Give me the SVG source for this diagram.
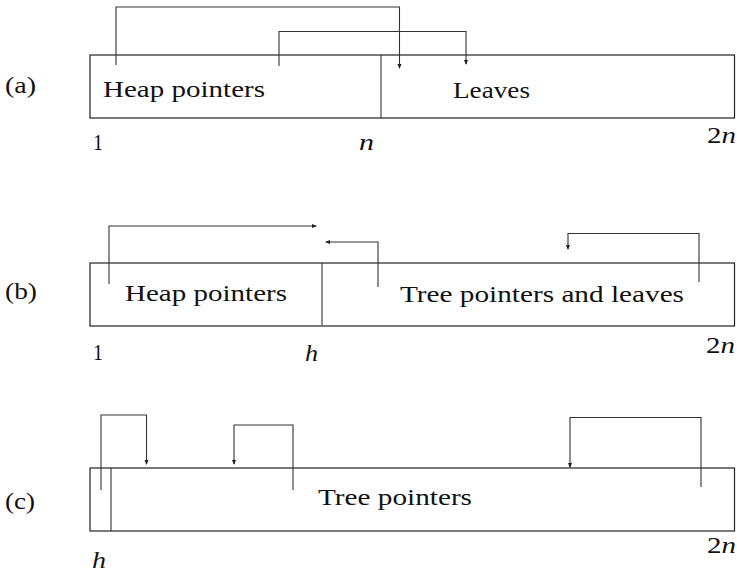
<svg xmlns="http://www.w3.org/2000/svg" width="737" height="573" viewBox="0 0 737 573">
<style>
text{font-family:'Liberation Serif','Times New Roman',Times,serif;font-size:23px;fill:#111}
.it{font-style:italic}
.box{fill:none;stroke:#222;stroke-width:1.2}
.div{stroke:#333;stroke-width:1.1}
.con{fill:none;stroke:#333;stroke-width:1.1}
</style>
<defs>
<marker id="ah" markerUnits="userSpaceOnUse" markerWidth="5" markerHeight="5" refX="4" refY="2.5" orient="auto">
<path d="M0,0.5 L5,2.5 L0,4.5 z" fill="#222"/>
</marker>
</defs>
<rect width="737" height="573" fill="#fff"/>

<g id="panel-a">
<rect class="box" x="90" y="55" width="644.5" height="63"/>
<line class="div" x1="381" y1="55" x2="381" y2="118"/>
<text x="5" y="93" textLength="31" lengthAdjust="spacingAndGlyphs">(a)</text>
<text x="103" y="97" textLength="162" lengthAdjust="spacingAndGlyphs">Heap pointers</text>
<text x="453" y="98" textLength="77" lengthAdjust="spacingAndGlyphs">Leaves</text>
<text x="93" y="150" textLength="10" lengthAdjust="spacingAndGlyphs">1</text>
<text class="it" x="359" y="150" textLength="15" lengthAdjust="spacingAndGlyphs">n</text>
<text x="707" y="143" textLength="29" lengthAdjust="spacingAndGlyphs">2<tspan class="it">n</tspan></text>
</g>

<g id="panel-b">
<rect class="box" x="90" y="263" width="644.5" height="63"/>
<line class="div" x1="322" y1="263" x2="322" y2="325"/>
<text x="5" y="299" textLength="32" lengthAdjust="spacingAndGlyphs">(b)</text>
<text x="125" y="301" textLength="162" lengthAdjust="spacingAndGlyphs">Heap pointers</text>
<text x="400" y="302" textLength="284" lengthAdjust="spacingAndGlyphs">Tree pointers and leaves</text>
<text x="93" y="360" textLength="10" lengthAdjust="spacingAndGlyphs">1</text>
<text class="it" x="305" y="361" textLength="13" lengthAdjust="spacingAndGlyphs">h</text>
<text x="706" y="353" textLength="29" lengthAdjust="spacingAndGlyphs">2<tspan class="it">n</tspan></text>
</g>

<g id="panel-c">
<rect class="box" x="90" y="468" width="644.5" height="63"/>
<line class="div" x1="111" y1="468" x2="111" y2="531"/>
<text x="5" y="509" textLength="30" lengthAdjust="spacingAndGlyphs">(c)</text>
<text x="318" y="505" textLength="154" lengthAdjust="spacingAndGlyphs">Tree pointers</text>
<text class="it" x="92" y="568" textLength="14" lengthAdjust="spacingAndGlyphs">h</text>
<text x="707" y="553" textLength="29" lengthAdjust="spacingAndGlyphs">2<tspan class="it">n</tspan></text>
</g>

<g id="connectors">
<path class="con" d="M116,65 V7 H399.5 V68" marker-end="url(#ah)"/>
<path class="con" d="M279,66 V31.5 H466 V64" marker-end="url(#ah)"/>
<path class="con" d="M109,284 V226 H316" marker-end="url(#ah)"/>
<path class="con" d="M378,287 V242 H326" marker-end="url(#ah)"/>
<path class="con" d="M699,282 V233.5 H568 V249" marker-end="url(#ah)"/>
<path class="con" d="M101,490 V415 H146.5 V464" marker-end="url(#ah)"/>
<path class="con" d="M293,490 V425 H234 V464" marker-end="url(#ah)"/>
<path class="con" d="M701,487 V417.5 H570 V467" marker-end="url(#ah)"/>
</g>
</svg>
